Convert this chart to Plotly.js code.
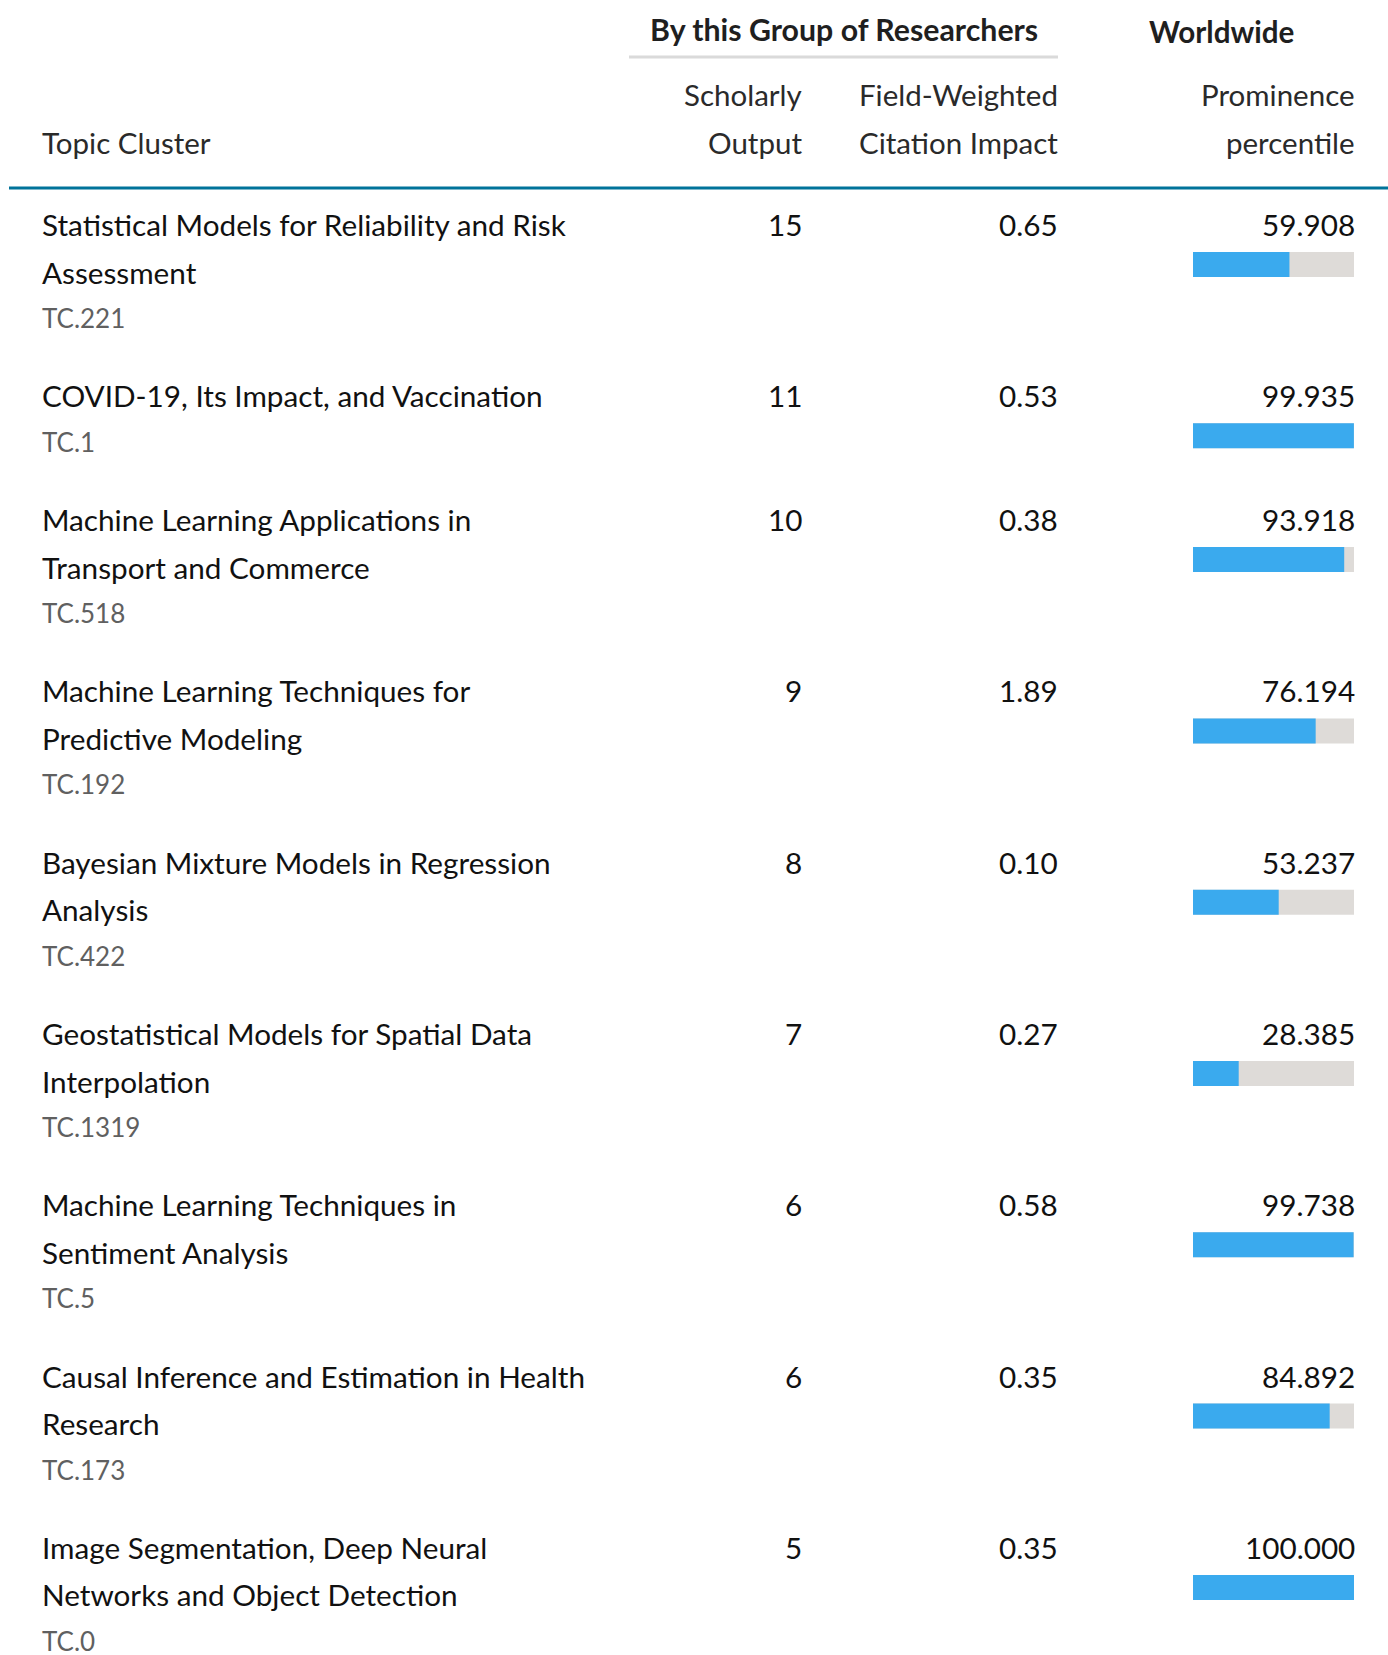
<!DOCTYPE html>
<html>
<head>
<meta charset="utf-8">
<script src="https://cdn.plot.ly/plotly-3.0.1.min.js"></script>
<style>
  html, body { margin: 0; padding: 0; background: #ffffff; }
  #chart { width: 1388px; height: 1655px; }
</style>
</head>
<body>
<div id="chart"></div>
<script>
// ---------------- DATA ----------------
const topicTitles = [
  "Statistical Models for Reliability and Risk<br>Assessment",
  "COVID-19, Its Impact, and Vaccination",
  "Machine Learning Applications in<br>Transport and Commerce",
  "Machine Learning Techniques for<br>Predictive Modeling",
  "Bayesian Mixture Models in Regression<br>Analysis",
  "Geostatistical Models for Spatial Data<br>Interpolation",
  "Machine Learning Techniques in<br>Sentiment Analysis",
  "Causal Inference and Estimation in Health<br>Research",
  "Image Segmentation, Deep Neural<br>Networks and Object Detection"
];
const topicCodes = ["TC.221", "TC.1", "TC.518", "TC.192", "TC.422", "TC.1319", "TC.5", "TC.173", "TC.0"];
const scholarlyOutput = [15, 11, 10, 9, 8, 7, 6, 6, 5];
const fwci = [0.65, 0.53, 0.38, 1.89, 0.10, 0.27, 0.58, 0.35, 0.35];
const prominencePercentile = [59.908, 99.935, 93.918, 76.194, 53.237, 28.385, 99.738, 84.892, 100.000];

const groupHeader = "By this Group of Researchers";
const worldHeader = "Worldwide";
const colHeaders = {
  topic: ["Topic Cluster"],
  output: ["Scholarly", "Output"],
  fwci: ["Field-Weighted", "Citation Impact"],
  prominence: ["Prominence", "percentile"]
};

// ---------------- LAYOUT / STYLE ----------------
const W = 1388, H = 1655;
const FONT = "Lato, 'Open Sans', sans-serif";
const BODY = 29.7, TCSIZE = 26, HEAD = 29.5;
const X_TOPIC = 41, X_OUT = 803, X_FWCI = 1059, X_PROM = 1356;
const BAR_X0 = 1193, BAR_X1 = 1354;
const ROW_Y0 = 224.5, LINE_H = 47.5, TC_GAP = 46, ROW_EXTRA = 76.3;
const BAR_OFFSET = 40, BAR_H = 25;

const BLUE = "#3aaaee", TRACK = "#dedbd8", TEAL = "#00739a";

const annotations = [];
function addText(text, x, y, anchor, size, color, bold) {
  annotations.push({
    text: bold ? "<b>" + text + "</b>" : text,
    x: x, y: y, xref: "x", yref: "y",
    xanchor: anchor, yanchor: "middle",
    showarrow: false, borderpad: 0,
    font: { family: FONT, size: size, color: color }
  });
}

// Headers
addText(groupHeader, 844, 28.5, "center", 30.3, "#1f1f1f", true);
addText(worldHeader, 1221, 31.5, "center", 29.6, "#1f1f1f", true);
addText(colHeaders.topic[0], X_TOPIC, 142.5, "left", HEAD, "#2a2a2a");
[["output", X_OUT], ["fwci", X_FWCI], ["prominence", X_PROM]].forEach(([k, x]) => {
  colHeaders[k].forEach((t, i) => addText(t, x, 94.5 + i * 48, "right", HEAD, "#2a2a2a"));
});

// Rows
const rowY = [];
let y = ROW_Y0;
topicTitles.forEach((title, i) => {
  rowY.push(y);
  const lines = title.split("<br>");
  lines.forEach((ln, j) => addText(ln, X_TOPIC, y + j * LINE_H, "left", BODY, "#111111"));
  const lastY = y + (lines.length - 1) * LINE_H;
  addText(topicCodes[i], X_TOPIC, lastY + TC_GAP, "left", TCSIZE, "#606060");
  addText(String(scholarlyOutput[i]), X_OUT, y, "right", BODY, "#111111");
  addText(fwci[i].toFixed(2), X_FWCI, y, "right", BODY, "#111111");
  addText(prominencePercentile[i].toFixed(3), X_PROM, y, "right", BODY, "#111111");
  y += lines.length * LINE_H + ROW_EXTRA;
});
const barY = rowY.map(v => v + BAR_OFFSET);

const traces = [
  {
    type: "bar", orientation: "h",
    x: prominencePercentile.map(() => 100), y: barY,
    width: BAR_H, xaxis: "x2", yaxis: "y",
    marker: { color: TRACK }, hoverinfo: "skip", showlegend: false
  },
  {
    type: "bar", orientation: "h",
    x: prominencePercentile, y: barY,
    width: BAR_H, xaxis: "x2", yaxis: "y",
    marker: { color: BLUE }, hoverinfo: "skip", showlegend: false
  }
];

const layout = {
  width: W, height: H,
  margin: { l: 0, r: 0, t: 0, b: 0 },
  paper_bgcolor: "#ffffff", plot_bgcolor: "#ffffff",
  barmode: "overlay",
  showlegend: false,
  xaxis: { range: [0, W], visible: false, fixedrange: true, domain: [0, 1] },
  xaxis2: { range: [0, 100], visible: false, fixedrange: true, anchor: "y",
            domain: [BAR_X0 / W, BAR_X1 / W] },
  yaxis: { range: [H, 0], visible: false, fixedrange: true },
  shapes: [
    { type: "line", xref: "x", yref: "y", x0: 629, x1: 1058, y0: 57, y1: 57,
      line: { color: "#dadada", width: 3 } },
    { type: "line", xref: "x", yref: "y", x0: 9, x1: W, y0: 188, y1: 188,
      line: { color: TEAL, width: 3 } }
  ],
  annotations: annotations
};

Plotly.newPlot("chart", traces, layout, { displayModeBar: false, staticPlot: true });
</script>
</body>
</html>
